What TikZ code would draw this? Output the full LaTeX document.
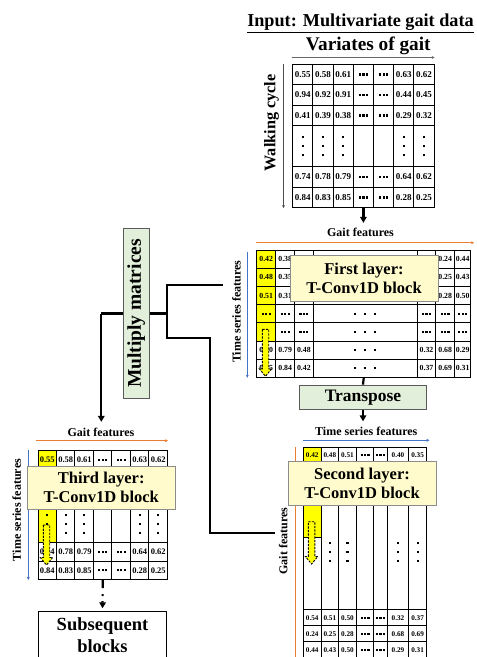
\documentclass[tikz,border=0pt]{standalone}
\usepackage{fontspec}
\setmainfont{Liberation Serif}
\usetikzlibrary{matrix,arrows.meta}

\definecolor{kernyellow}{HTML}{FFFF00}
\definecolor{boxyellow}{HTML}{FFFBCC}
\definecolor{boxgreen}{HTML}{E2EFDA}
\definecolor{boxedge}{HTML}{8C8C8C}
\definecolor{opedge}{HTML}{5A5A5A}
\definecolor{axorange}{HTML}{ED7D31}
\definecolor{axblue}{HTML}{4472C4}

\newcommand{\fsz}[1]{\fontsize{#1}{\fpeval{1.15*#1}}\selectfont\bfseries}
\newcommand{\dotsq}{\rule{2.2pt}{2.2pt}}
\newcommand{\hdt}{\dotsq\hspace{1.2pt}\dotsq\hspace{1.2pt}\dotsq}
\newcommand{\wdt}{\dotsq\hspace{8pt}\dotsq\hspace{8pt}\dotsq}
\newcommand{\vdt}[1][0pt]{\vbox{\offinterlineskip\vskip#1\hbox{\dotsq}\vskip6.8pt\hbox{\dotsq}\vskip6.8pt\hbox{\dotsq}}}
% dashed kernel arrow: x, top, bottom
\newcommand{\kernarrow}[3]{\filldraw[kernarr] (#1-3.2,#2) -- (#1+3.2,#2) -- (#1+3.2,#3-7.5) -- (#1+6.2,#3-7.5) -- (#1,#3) -- (#1-6.2,#3-7.5) -- (#1-3.2,#3-7.5) -- cycle;}

\begin{document}
\begin{tikzpicture}[x=1pt, y=-1pt,
    valgrid/.style={matrix of nodes, nodes in empty cells, ampersand replacement=\&,
      matrix anchor=north west, inner sep=0pt, row sep=-1pt, column sep=-1pt,
      nodes={draw, line width=1pt, inner sep=0pt, anchor=center}},
    hlcell/.style={fill=kernyellow},
    layerbox/.style={draw=boxedge, fill=boxyellow, line width=0.8pt, align=center,
      inner sep=0pt, minimum width=148pt, font=\fsz{16.5}},
    opbox/.style={draw=opedge, fill=boxgreen, line width=0.8pt, inner sep=0pt, font=\fsz{17.5}},
    lbl/.style={inner sep=2pt, font=\fsz{12}},
    conn/.style={line width=2.2pt},
    arrowed/.style={-{Triangle[length=6pt,width=6.5pt]}},
    axisline/.style={line width=0.8pt, -{Latex[length=3pt,width=3pt]}},
    kernarr/.style={fill=kernyellow, draw=black, line width=0.9pt, dash pattern=on 2.2pt off 1.3pt}]
  \useasboundingbox (0,0) rectangle (477,657);

  % input matrix
  \node[anchor=base, font=\fsz{18.2}] (title) at (360.5,26.5) {\underline{Input: Multivariate gait data}};
  \node[anchor=base, font=\fsz{19.3}] (vargait) at (368.3,50.5) {Variates of gait};
  \node[rotate=90, font=\fsz{16.2}] (walk) at (271.5,123) {Walking cycle};
  \matrix (inmat) [valgrid, nodes={minimum width=20.2pt, minimum height=20.5pt, font=\fsz{9}},
      row 4/.style={nodes={minimum height=41pt}}] at (292,63.5) {
    0.55 \& 0.58 \& 0.61 \& \hdt \& \hdt \& 0.63 \& 0.62 \\
    0.94 \& 0.92 \& 0.91 \& \hdt \& \hdt \& 0.44 \& 0.45 \\
    0.41 \& 0.39 \& 0.38 \& \hdt \& \hdt \& 0.29 \& 0.32 \\
    \vdt \& \vdt \& \vdt \& \& \& \vdt \& \vdt \\
    0.74 \& 0.78 \& 0.79 \& \hdt \& \hdt \& 0.64 \& 0.62 \\
    0.84 \& 0.83 \& 0.85 \& \hdt \& \hdt \& 0.28 \& 0.25 \\
  };
  \draw[axisline, black!60] ([yshift=6pt]inmat.north west) -- ([yshift=6pt]inmat.north east);
  \draw[axisline, black!70] ([xshift=-8.5pt]inmat.north west) -- ([xshift=-8.5pt]inmat.south west);

  % first layer
  \node[lbl, anchor=base] (gf1) at (360.5,236.5) {Gait features};
  \node[lbl, rotate=90] (tsf1) at (236.5,311.7) {Time series features};
  \matrix (l1mat) [valgrid, nodes={minimum width=19pt, minimum height=18.2pt, font=\fsz{7.8}},
      column 3/.style={nodes={minimum width=18.3pt}}, column 4/.style={nodes={minimum width=104.4pt}},
      column 5/.style={nodes={minimum width=18.3pt}}, column 7/.style={nodes={minimum width=16pt}}] at (256,249.3) {
    |[hlcell]| 0.42 \& 0.38 \& \& \& \& 0.24 \& 0.44 \\
    |[hlcell]| 0.48 \& 0.35 \& \& \& \& 0.25 \& 0.43 \\
    |[hlcell]| 0.51 \& 0.31 \& \& \& \& 0.28 \& 0.50 \\
    |[hlcell]| \hdt \& \hdt \& \hdt \& \wdt \& \hdt \& \hdt \& \hdt \\
    |[hlcell]| \& \hdt \& \hdt \& \wdt \& \hdt \& \hdt \& \hdt \\
    0.80 \& 0.79 \& 0.48 \& \wdt \& 0.32 \& 0.68 \& 0.29 \\
    0.85 \& 0.84 \& 0.42 \& \wdt \& 0.37 \& 0.69 \& 0.31 \\
  };
  \draw[axisline, axorange] ([yshift=6.6pt]l1mat.north west) -- ([yshift=6.6pt,xshift=3pt]l1mat.north east);
  \draw[axisline, axblue] ([xshift=-8.7pt,yshift=-2.4pt]l1mat.north west) -- ([xshift=-8.7pt]l1mat.south west);
  \kernarrow{265.5}{329.3}{376.3}
  \node[layerbox, minimum height=46pt] (fl) at (364,278.6) {First layer:\\T-Conv1D block};

  \node[opbox, minimum width=127.4pt, minimum height=24.3pt] (trans) at (363,397.2) {Transpose};

  % second layer
  \node[lbl, anchor=base] (tsf2) at (366.3,435) {Time series features};
  \node[lbl, rotate=90] (gf2) at (283.3,541) {Gait features};
  \matrix (l2mat) [valgrid, nodes={minimum width=17.6pt, minimum height=16pt, font=\fsz{7.2}},
      row 1/.style={nodes={minimum height=15pt}}, row 2/.style={nodes={minimum height=147.3pt}},
      column 5/.style={nodes={minimum width=13.3pt}}, column 6/.style={nodes={minimum width=21.7pt}}] at (302.7,446.7) {
    |[hlcell]| 0.42 \& 0.48 \& 0.51 \& \hdt \& \hdt \& 0.40 \& 0.35 \\
    \& \vdt[32pt] \& \vdt[32pt] \& \& \& \vdt[32pt] \& \vdt[32pt] \\
    0.54 \& 0.51 \& 0.50 \& \hdt \& \hdt \& 0.32 \& 0.37 \\
    0.24 \& 0.25 \& 0.28 \& \hdt \& \hdt \& 0.68 \& 0.69 \\
    0.44 \& 0.43 \& 0.50 \& \hdt \& \hdt \& 0.29 \& 0.31 \\
  };
  \filldraw[fill=kernyellow, line width=0.6pt] (l2mat-2-1.north west) rectangle ([yshift=-75pt]l2mat-2-1.north east);
  \draw[axisline, axblue] ([yshift=6.4pt]l2mat.north west) -- ([yshift=6.4pt,xshift=2.6pt]l2mat.north east);
  \draw[axisline, axorange] ([xshift=-7pt]l2mat.north west) -- ([xshift=-7pt,yshift=-4pt]l2mat.south west);
  \kernarrow{311.6}{521.7}{564}
  \node[layerbox, minimum height=44.5pt] (sl) at (362,483.6) {Second layer:\\T-Conv1D block};

  % third layer
  \node[lbl, anchor=base] (gf3) at (101,436.5) {Gait features};
  \node[lbl, rotate=90] (tsf3) at (16.7,510) {Time series features};
  \matrix (l3mat) [valgrid, nodes={minimum width=18.5pt, minimum height=18.4pt, font=\fsz{8.5}},
      row 4/.style={nodes={minimum height=36.8pt}}] at (37.3,450) {
    |[hlcell]| 0.55 \& 0.58 \& 0.61 \& \hdt \& \hdt \& 0.63 \& 0.62 \\
    |[hlcell]| \& \& \& \& \& \& \\
    |[hlcell]| \& \& \& \& \& \& \\
    |[hlcell]| \vdt \& \vdt \& \vdt \& \& \& \vdt \& \vdt \\
    0.74 \& 0.78 \& 0.79 \& \hdt \& \hdt \& 0.64 \& 0.62 \\
    0.84 \& 0.83 \& 0.85 \& \hdt \& \hdt \& 0.28 \& 0.25 \\
  };
  \draw[axisline, axorange] ([yshift=9.3pt,xshift=-1.3pt]l3mat.north west) -- ([yshift=9.3pt]l3mat.north east);
  \draw[axisline, axblue] ([xshift=-9pt]l3mat.north west) -- ([xshift=-9pt]l3mat.south west);
  \kernarrow{46.5}{525}{565}
  \node[layerbox, minimum height=42.7pt] (tl) at (101.2,487.7) {Third layer:\\T-Conv1D block};

  \node[draw, line width=1pt, fill=white, minimum width=128.4pt, minimum height=48pt, anchor=north,
    align=center, font=\fsz{18.5}] (sub) at (102.5,610.7) {Subsequent\\blocks};

  \node[opbox, minimum width=26pt, minimum height=170.7pt, font=\fsz{19.5}] (mult) at (136.3,313.5) {\rotatebox{90}{Multiply matrices}};

  % connectors
  \draw[conn, arrowed, shorten >=3pt] (inmat.south) -- (inmat.south |- gf1.north);
  \draw[conn] (l1mat.south) -- (trans.north);
  \draw[conn, arrowed, shorten >=3pt] (trans.south) -- (trans.south |- tsf2.north);
  \coordinate (jr) at ([xshift=17.4pt]mult.east);
  \coordinate (jl) at ([xshift=-21.6pt]mult.west);
  \coordinate (jt) at (166.7,285);
  \coordinate (jb) at (166.7,338.3);
  \coordinate (e1) at (222.7,285);
  \coordinate (bend) at (210,532.7);
  \coordinate (e2) at (275,532.7);
  \draw[conn] (mult.east) -- (jr);
  \draw[conn] (e1) -- (jt) -- (jb) -| (bend) -- (e2);
  \draw[conn] (mult.west) -- (jl);
  \draw[conn, arrowed, shorten >=4pt] (jl) -- (jl |- gf3.north);
  \draw[conn, arrowed, dash pattern=on 8pt off 6pt on 2pt off 5pt on 30pt, shorten >=2.4pt] (l3mat.south) -- (sub.north);
\end{tikzpicture}
\end{document}
